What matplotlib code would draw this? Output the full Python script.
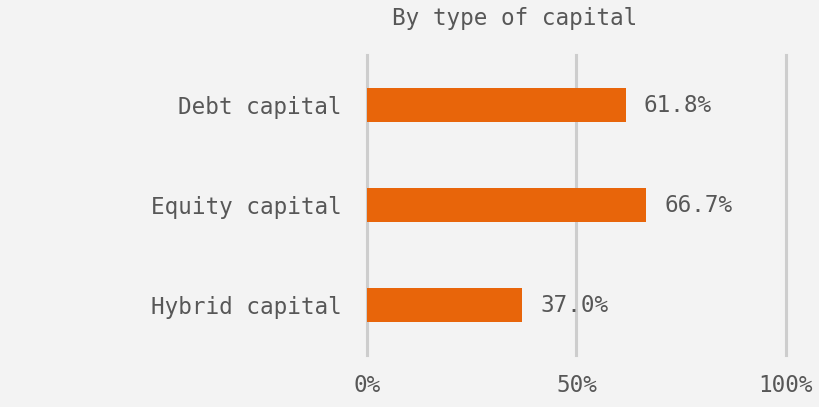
import matplotlib
matplotlib.use("Agg")
import matplotlib.pyplot as plt
from matplotlib.ticker import FixedLocator, FuncFormatter

categories = ["Debt capital", "Equity capital", "Hybrid capital"]
shares = [61.8, 66.7, 37.0]
x_ticks = [0, 50, 100]
x_tick_labels = ["0%", "50%", "100%"]
title = "By type of capital"

bg = "#f3f3f3"
bar_color = "#e8650a"
text_color = "#575757"
grid_color = "#cdcdcd"
font = ["DejaVu Sans Mono"]
fs = 16.3

fig = plt.figure(figsize=(8.2, 4.07), dpi=100, facecolor=bg)
ax = fig.add_axes([367 / 820, 1 - 355 / 407, 419 / 820, 300 / 407])
ax.set_facecolor(bg)

ypos = list(range(len(categories)))
ax.barh(ypos, shares, height=0.34, color=bar_color, zorder=3)
ax.set_xlim(0, 100)
ax.set_ylim(len(categories) - 0.5, -0.5)

ax.xaxis.set_major_locator(FixedLocator(x_ticks))
ax.xaxis.set_major_formatter(FuncFormatter(lambda v, p: x_tick_labels[x_ticks.index(int(round(v)))]))
ax.set_yticks(ypos)
ax.set_yticklabels(categories)
ax.tick_params(axis="both", length=0, colors=text_color, labelsize=fs)
ax.tick_params(axis="y", pad=18)
ax.tick_params(axis="x", pad=14)
for lab in ax.get_xticklabels() + ax.get_yticklabels():
    lab.set_family(font)

ax.grid(axis="x", color=grid_color, linewidth=2.2, zorder=1)
for gl in ax.get_xgridlines():
    gl.set_clip_on(False)
for s in ax.spines.values():
    s.set_visible(False)

for y, v in zip(ypos, shares):
    ax.annotate(f"{v:.1f}%", xy=(v, y), xytext=(13, 0), textcoords="offset points",
                va="center", ha="left", color=text_color, fontsize=fs, family=font)

fig.text(515 / 820, 1 - 18 / 407, title, ha="center", va="center",
         color=text_color, fontsize=fs, family=font)

fig.savefig("out.png", dpi=100, facecolor=bg)
